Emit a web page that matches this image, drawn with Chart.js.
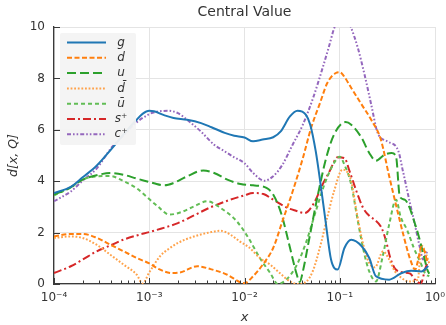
<!DOCTYPE html>
<html>
<head>
<meta charset="utf-8">
<script src="https://cdn.jsdelivr.net/npm/chart.js@4.4.1/dist/chart.umd.min.js"></script>
<style>
  html, body { margin: 0; padding: 0; background: #fff; }
</style>
</head>
<body>
<canvas id="pdfChart" width="446" height="325"></canvas>
<script>
// axis ticks
const xTicks = [1e-4, 1e-3, 1e-2, 1e-1, 1];
const xTickLabels = ['10⁻⁴', '10⁻³', '10⁻²', '10⁻¹', '10⁰'];
const yTicks = [0, 2, 4, 6, 8, 10];

// series names (legend order)
const names = ['g', 'd', 'u', 'd̄', 'ū', 's⁺', 'c⁺'];

// g
const gX = [1.0e-4,1.5e-4,2.0e-4,2.8e-4,4.0e-4,5.6e-4,7.2e-4,8.5e-4,1.0e-3,1.12e-3,1.45e-3,1.8e-3,2.5e-3,3.5e-3,4.5e-3,6.2e-3,7.8e-3,1.0e-2,1.23e-2,1.55e-2,2.0e-2,2.4e-2,3.0e-2,3.6e-2,4.4e-2,4.9e-2,5.6e-2,6.3e-2,7.1e-2,8.1e-2,9.5e-2,0.112,0.132,0.17,0.204,0.24,0.33,0.447,0.56,0.72,0.85];
const gY = [3.54,3.78,4.15,4.60,5.25,5.90,6.35,6.62,6.74,6.72,6.56,6.46,6.39,6.26,6.10,5.88,5.77,5.70,5.55,5.62,5.71,5.94,6.52,6.74,6.59,6.20,5.16,3.87,2.44,0.95,0.56,1.40,1.72,1.47,1.01,0.30,0.17,0.43,0.52,0.49,0.70];

// d
const dX = [1.0e-4,1.5e-4,2.0e-4,2.8e-4,3.9e-4,5.4e-4,7.4e-4,1.0e-3,1.23e-3,1.7e-3,2.1e-3,3.2e-3,4.4e-3,6.6e-3,9.1e-3,1.0e-2,1.23e-2,1.55e-2,2.0e-2,2.5e-2,3.2e-2,4.1e-2,5.0e-2,6.2e-2,7.4e-2,9.1e-2,0.100,0.110,0.132,0.17,0.214,0.27,0.33,0.40,0.47,0.55,0.62,0.66,0.72,0.78,0.83];
const dY = [1.85,1.95,1.95,1.80,1.53,1.27,1.01,0.80,0.60,0.43,0.45,0.69,0.58,0.36,0.06,0.03,0.30,0.75,1.40,2.44,3.60,4.90,6.07,7.04,7.82,8.21,8.24,8.10,7.63,6.98,6.39,5.62,4.20,2.90,1.85,0.95,0.56,0.88,1.45,1.25,0.85];

// u
const uX = [1.0e-4,1.5e-4,2.0e-4,2.8e-4,3.9e-4,5.4e-4,7.4e-4,1.0e-3,1.12e-3,1.45e-3,1.8e-3,2.5e-3,3.7e-3,4.8e-3,6.6e-3,9.1e-3,1.23e-2,1.7e-2,2.0e-2,2.45e-2,2.95e-2,3.5e-2,3.8e-2,4.1e-2,4.8e-2,5.9e-2,7.2e-2,8.7e-2,0.115,0.132,0.17,0.204,0.24,0.295,0.35,0.39,0.427,0.48,0.645,0.72,0.78,0.83,0.87];
const uY = [3.48,3.76,4.06,4.23,4.32,4.25,4.10,3.97,3.92,3.84,3.93,4.19,4.42,4.32,4.06,3.89,3.84,3.74,3.48,2.70,1.53,0.43,0.08,0.49,1.79,3.48,4.90,5.81,6.30,6.20,5.68,5.10,4.80,5.03,5.10,4.95,3.40,3.28,2.11,1.46,0.95,0.56,0.40];

// d bar
const dbX = [1.0e-4,1.5e-4,2.0e-4,2.8e-4,3.9e-4,5.4e-4,7.4e-4,8.5e-4,1.0e-3,1.29e-3,1.58e-3,2.0e-3,2.95e-3,4.47e-3,5.6e-3,7.1e-3,8.9e-3,1.12e-2,1.45e-2,1.86e-2,2.34e-2,3.0e-2,3.6e-2,4.47e-2,5.2e-2,6.3e-2,7.4e-2,8.7e-2,0.107,0.117,0.132,0.15,0.17,0.20,0.234,0.285,0.324,0.38,0.447,0.525,0.66,0.72,0.81,0.87];
const dbY = [1.79,1.85,1.79,1.53,1.14,0.75,0.36,0.02,0.45,1.07,1.35,1.60,1.85,2.02,2.07,1.92,1.66,1.42,1.01,0.75,0.43,0.10,0.00,0.10,0.49,1.53,2.60,3.60,4.45,4.40,4.00,2.83,1.79,0.88,0.65,1.27,1.01,0.49,0.23,0.10,0.17,1.50,1.14,0.80];

// u bar
const ubX = [1.0e-4,1.5e-4,2.0e-4,2.8e-4,3.9e-4,5.4e-4,7.4e-4,8.9e-4,1.23e-3,1.62e-3,2.14e-3,2.95e-3,4.07e-3,5.6e-3,8.3e-3,1.1e-2,1.45e-2,1.86e-2,2.24e-2,2.75e-2,3.55e-2,4.47e-2,5.6e-2,6.9e-2,8.5e-2,0.100,0.112,0.132,0.155,0.182,0.204,0.24,0.28,0.33,0.39,0.437,0.51,0.60,0.71,0.79,0.87];
const ubY = [3.45,3.76,4.06,4.19,4.20,4.00,3.72,3.47,3.02,2.70,2.79,3.02,3.22,2.96,2.44,1.79,1.01,0.43,0.00,0.17,0.75,1.66,2.83,3.87,4.64,4.95,4.64,3.87,2.44,1.14,0.49,0.10,1.01,2.31,3.28,2.60,2.10,1.40,0.80,0.40,0.30];

// s+
const sX = [1.0e-4,1.5e-4,2.0e-4,2.8e-4,3.9e-4,5.4e-4,7.4e-4,1.0e-3,1.32e-3,2.0e-3,2.95e-3,4.37e-3,6.6e-3,1.0e-2,1.23e-2,1.58e-2,2.0e-2,2.75e-2,3.47e-2,4.27e-2,5.25e-2,6.6e-2,7.8e-2,9.5e-2,0.112,0.127,0.15,0.176,0.207,0.233,0.275,0.31,0.336,0.38,0.468,0.55,0.617,0.71,0.79,0.85];
const sY = [0.43,0.69,0.95,1.27,1.50,1.73,1.89,2.02,2.15,2.37,2.67,2.98,3.24,3.45,3.54,3.50,3.28,2.98,2.85,2.76,3.09,3.87,4.38,4.93,4.90,4.38,3.60,2.96,2.63,2.50,2.18,1.60,1.07,0.60,0.45,0.40,0.17,0.02,0.60,0.90];

// c+
const cX = [1.0e-4,1.5e-4,2.0e-4,2.8e-4,3.98e-4,5.6e-4,7.2e-4,1.0e-3,1.15e-3,1.58e-3,2.0e-3,2.5e-3,3.47e-3,4.8e-3,6.2e-3,7.8e-3,1.0e-2,1.23e-2,1.62e-2,2.0e-2,2.5e-2,3.2e-2,4.1e-2,5.25e-2,6.6e-2,7.8e-2,8.7e-2,0.11,0.132,0.155,0.182,0.214,0.25,0.316,0.41,0.46,0.545,0.61,0.69,0.75,0.81,0.85];
const cY = [3.22,3.60,4.02,4.49,5.29,5.85,6.26,6.61,6.69,6.74,6.65,6.39,5.94,5.42,5.16,4.93,4.70,4.32,4.02,4.19,4.64,5.42,6.20,7.24,8.40,9.31,9.93,10.6,9.96,9.18,8.15,6.98,5.88,5.55,5.20,4.40,3.16,2.37,1.46,0.95,1.20,1.30];

const textColor = '#333333';
const gridColor = '#e4e4e4';
const spineColor = '#3a3a3a';

function pts(xs, ys) {
  return xs.map((x, i) => ({ x: x, y: ys[i] }));
}

const styles = [
  { color: '#1f77b4', dash: [] },
  { color: '#ff7f0e', dash: [5, 2.5] },
  { color: '#2ca02c', dash: [9, 4] },
  { color: '#ffa24a', dash: [1.8, 1.8] },
  { color: '#62bd55', dash: [4, 3] },
  { color: '#d62728', dash: [8, 3, 2, 3] },
  { color: '#9467bd', dash: [4, 2, 1.6, 2, 1.6, 2] }
];

const seriesData = [pts(gX, gY), pts(dX, dY), pts(uX, uY), pts(dbX, dbY), pts(ubX, ubY), pts(sX, sY), pts(cX, cY)];

const datasets = seriesData.map((data, i) => ({
  label: names[i],
  data: data,
  borderColor: styles[i].color,
  borderDash: styles[i].dash,
  borderWidth: 2,
  pointRadius: 0,
  fill: false,
  tension: 0.4,
  cubicInterpolationMode: 'monotone'
}));

// inward ticks, legend box, title and axis names
const decorPlugin = {
  id: 'decor',
  afterDraw(chart) {
    const { ctx, chartArea: a, scales } = chart;
    const xs = scales.x, ys = scales.y;
    ctx.save();

    // tick marks pointing inside
    ctx.strokeStyle = spineColor;
    ctx.lineWidth = 1;
    ctx.setLineDash([]);
    ctx.beginPath();
    for (let e = -4; e <= 0; e++) {
      for (let m = 1; m <= 9; m++) {
        const v = m * Math.pow(10, e);
        if (v > 1.0000001) break;
        const px = Math.round(xs.getPixelForValue(v)) + 0.5;
        const len = m === 1 ? 6 : 3.5;
        ctx.moveTo(px, a.bottom);
        ctx.lineTo(px, a.bottom - len);
      }
    }
    yTicks.forEach(v => {
      const py = Math.round(ys.getPixelForValue(v)) + 0.5;
      ctx.moveTo(a.left, py);
      ctx.lineTo(a.left + 6, py);
    });
    ctx.stroke();

    // legend
    const lx = 60, ly = 33, lw = 76, lh = 112;
    ctx.fillStyle = 'rgba(243,243,243,0.95)';
    ctx.beginPath();
    ctx.roundRect(lx, ly, lw, lh, 2);
    ctx.fill();
    names.forEach((n, i) => {
      const rowY = 42.5 + i * 15.3;
      ctx.strokeStyle = styles[i].color;
      ctx.lineWidth = 2;
      ctx.setLineDash(styles[i].dash);
      ctx.beginPath();
      ctx.moveTo(67, rowY);
      ctx.lineTo(106, rowY);
      ctx.stroke();
      ctx.setLineDash([]);
      ctx.fillStyle = textColor;
      ctx.font = 'italic 12px "DejaVu Sans"';
      ctx.textAlign = 'center';
      ctx.textBaseline = 'middle';
      ctx.fillText(n, 121, rowY);
    });

    // title
    ctx.fillStyle = textColor;
    ctx.font = '14px "DejaVu Sans"';
    ctx.textAlign = 'center';
    ctx.textBaseline = 'middle';
    ctx.fillText('Central Value', (a.left + a.right) / 2, 12.5);

    // axis names
    ctx.font = 'italic 13px "DejaVu Sans"';
    ctx.fillText('x', (a.left + a.right) / 2, 318);
    ctx.translate(14, (a.top + a.bottom) / 2);
    ctx.rotate(-Math.PI / 2);
    ctx.font = 'italic 12.5px "DejaVu Sans"';
    ctx.fillText('d[x, Q]', 0, 0);

    ctx.restore();
  }
};

new Chart(document.getElementById('pdfChart'), {
  type: 'line',
  data: { datasets: datasets },
  options: {
    responsive: false,
    devicePixelRatio: 1,
    animation: false,
    parsing: true,
    layout: { padding: { left: 0, right: 11, top: 27, bottom: 0 } },
    plugins: {
      legend: { display: false },
      title: { display: false },
      tooltip: { enabled: false }
    },
    scales: {
      x: {
        type: 'logarithmic',
        min: 1e-4,
        max: 1,
        afterBuildTicks: s => { s.ticks = xTicks.map(v => ({ value: v })); },
        afterFit: s => { s.height = 41; s.paddingLeft = 0; s.paddingRight = 0; },
        ticks: {
          autoSkip: false,
          maxRotation: 0,
          padding: 7,
          color: textColor,
          font: { family: 'DejaVu Sans', size: 12 },
          callback: v => {
            const i = xTicks.findIndex(t => Math.abs(t - v) / t < 1e-6);
            return i >= 0 ? xTickLabels[i] : '';
          }
        },
        grid: { color: gridColor, lineWidth: 1, drawTicks: false },
        border: { display: true, color: spineColor, width: 1.3 }
      },
      y: {
        type: 'linear',
        min: 0,
        max: 10,
        afterBuildTicks: s => { s.ticks = yTicks.map(v => ({ value: v })); },
        afterFit: s => { s.width = 54; s.paddingTop = 0; s.paddingBottom = 0; },
        ticks: {
          padding: 9,
          color: textColor,
          font: { family: 'DejaVu Sans', size: 12 }
        },
        grid: { color: gridColor, lineWidth: 1, drawTicks: false },
        border: { display: true, color: spineColor, width: 1.3 }
      }
    }
  },
  plugins: [decorPlugin]
});
</script>
</body>
</html>
